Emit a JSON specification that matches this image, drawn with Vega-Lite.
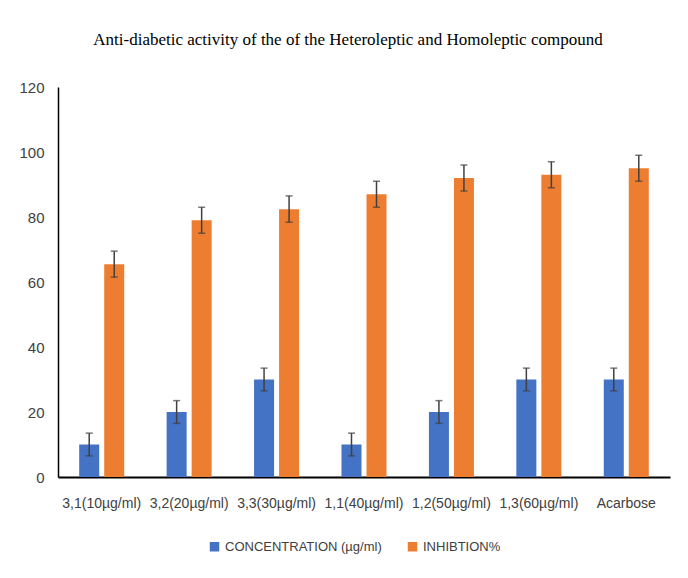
{
  "$schema": "https://vega.github.io/schema/vega-lite/v6.json",
  "autosize": "none",
  "width": 612,
  "height": 390,
  "padding": {"left": 58, "top": 87, "right": 18, "bottom": 101},
  "background": "white",
  "title": {
    "text": "Anti-diabetic activity of the of the Heteroleptic and Homoleptic compound",
    "font": "Liberation Serif",
    "fontSize": 17,
    "fontWeight": "normal",
    "color": "#000000",
    "anchor": "middle",
    "dx": -16,
    "offset": 31
  },
  "data": {
    "values": [
      {"compound": "3,1(10µg/ml)", "series": "CONCENTRATION (µg/ml)", "value": 10, "lo": 6.5, "hi": 13.5},
      {"compound": "3,1(10µg/ml)", "series": "INHIBTION%", "value": 65.5, "lo": 61.5, "hi": 69.5},
      {"compound": "3,2(20µg/ml)", "series": "CONCENTRATION (µg/ml)", "value": 20, "lo": 16.5, "hi": 23.5},
      {"compound": "3,2(20µg/ml)", "series": "INHIBTION%", "value": 79, "lo": 75, "hi": 83},
      {"compound": "3,3(30µg/ml)", "series": "CONCENTRATION (µg/ml)", "value": 30, "lo": 26.5, "hi": 33.5},
      {"compound": "3,3(30µg/ml)", "series": "INHIBTION%", "value": 82.4, "lo": 78.4, "hi": 86.5},
      {"compound": "1,1(40µg/ml)", "series": "CONCENTRATION (µg/ml)", "value": 10, "lo": 6.5, "hi": 13.5},
      {"compound": "1,1(40µg/ml)", "series": "INHIBTION%", "value": 87, "lo": 83, "hi": 91},
      {"compound": "1,2(50µg/ml)", "series": "CONCENTRATION (µg/ml)", "value": 20, "lo": 16.5, "hi": 23.5},
      {"compound": "1,2(50µg/ml)", "series": "INHIBTION%", "value": 92, "lo": 88, "hi": 96},
      {"compound": "1,3(60µg/ml)", "series": "CONCENTRATION (µg/ml)", "value": 30, "lo": 26.5, "hi": 33.5},
      {"compound": "1,3(60µg/ml)", "series": "INHIBTION%", "value": 93, "lo": 89, "hi": 97},
      {"compound": "Acarbose", "series": "CONCENTRATION (µg/ml)", "value": 30, "lo": 26.5, "hi": 33.5},
      {"compound": "Acarbose", "series": "INHIBTION%", "value": 95, "lo": 91, "hi": 99}
    ]
  },
  "encoding": {
    "x": {
      "field": "compound",
      "type": "nominal",
      "sort": null,
      "scale": {"paddingInner": 0.485, "paddingOuter": 0.2425},
      "axis": {
        "title": null,
        "labelAngle": 0,
        "labelFont": "Liberation Sans",
        "labelFontSize": 14,
        "labelColor": "#404040",
        "labelPadding": 19,
        "labelLimit": 0,
        "ticks": false,
        "domainColor": "#000000",
        "domainWidth": 2
      }
    },
    "xOffset": {
      "field": "series",
      "type": "nominal",
      "scale": {"paddingInner": 0.2, "paddingOuter": 0}
    }
  },
  "layer": [
    {
      "mark": {"type": "bar"},
      "encoding": {
        "y": {
          "field": "value",
          "type": "quantitative",
          "scale": {"domain": [0, 120], "nice": false},
          "axis": {
            "title": null,
            "values": [0, 20, 40, 60, 80, 100, 120],
            "grid": false,
            "ticks": false,
            "labelFont": "Liberation Sans",
            "labelFontSize": 15,
            "labelColor": "#404040",
            "labelPadding": 14,
            "domainColor": "#000000",
            "domainWidth": 1.5
          }
        },
        "color": {
          "field": "series",
          "type": "nominal",
          "scale": {"range": ["#4472C4", "#ED7D31"]},
          "legend": {
            "title": null,
            "orient": "none",
            "direction": "horizontal",
            "legendX": 150,
            "legendY": 453,
            "symbolType": "square",
            "symbolSize": 90,
            "symbolStrokeWidth": 0,
            "labelFont": "Liberation Sans",
            "labelFontSize": 13,
            "labelLimit": 0,
            "labelColor": "#404040",
            "columnPadding": 24,
            "labelOffset": 4
          }
        }
      }
    },
    {
      "mark": {"type": "rule", "color": "#404040", "strokeWidth": 1.5},
      "encoding": {
        "y": {"field": "lo", "type": "quantitative"},
        "y2": {"field": "hi"}
      }
    },
    {
      "mark": {"type": "tick", "color": "#404040", "thickness": 1.5, "size": 7, "orient": "horizontal"},
      "encoding": {
        "y": {"field": "lo", "type": "quantitative"}
      }
    },
    {
      "mark": {"type": "tick", "color": "#404040", "thickness": 1.5, "size": 7, "orient": "horizontal"},
      "encoding": {
        "y": {"field": "hi", "type": "quantitative"}
      }
    }
  ],
  "config": {"view": {"stroke": null}}
}
